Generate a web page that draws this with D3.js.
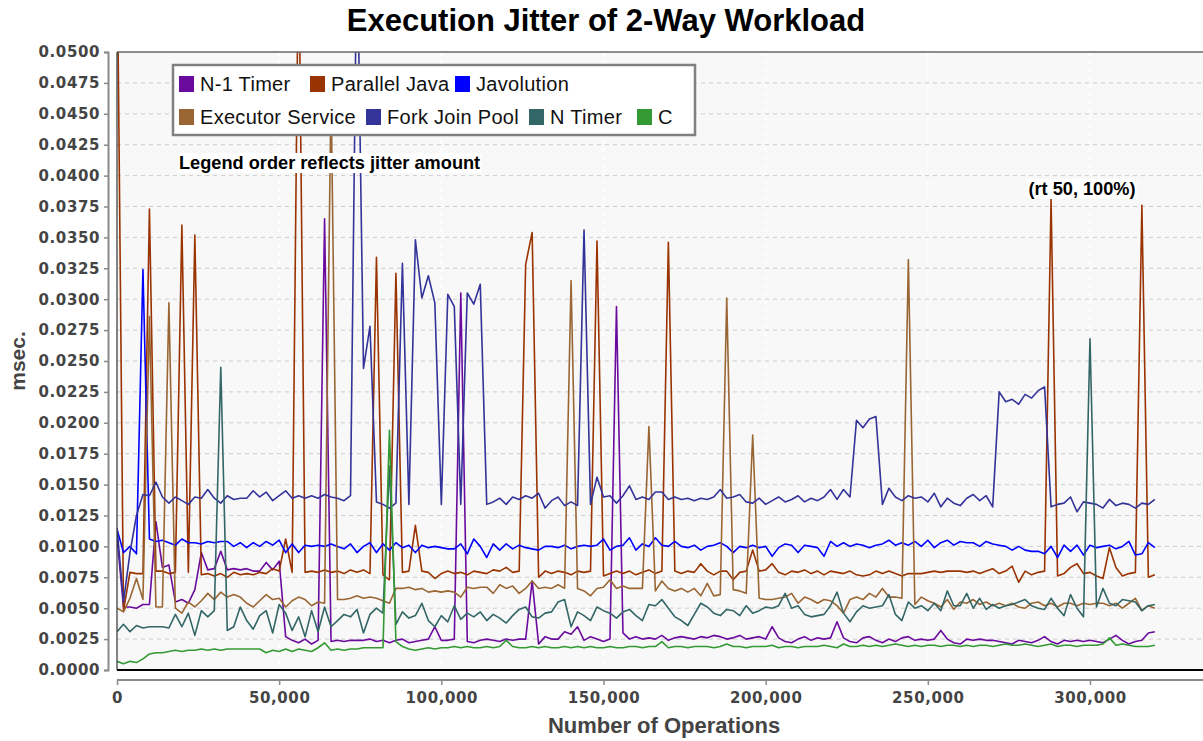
<!DOCTYPE html>
<html><head><meta charset="utf-8">
<script src="https://cdn.jsdelivr.net/npm/d3@7"></script>
<style>body{margin:0;background:#fff;} svg{display:block;}</style>
</head><body><svg id="chart" width="1203" height="741"></svg>
<script>
// ---------------- DATA ----------------
const opsStep = 2000; // one sample every 2,000 operations, starting at 0
const seriesNames = ["N-1 Timer","Parallel Java","Javolution","Executor Service","Fork Join Pool","N Timer","C"];
const seriesColors = ["#6b0b9e","#993300","#0000ff","#996633","#333399","#336666","#339933"];

const n1Timer = [
0.0108,0.0051,0.0051,0.0050,0.0053,0.0053,0.0120,0.0083,0.0085,0.0055,
0.0057,0.0054,0.0065,0.0095,0.0081,0.0082,0.0096,0.0081,0.0082,0.0081,
0.0082,0.0080,0.0080,0.0087,0.0081,0.0088,0.0027,0.0024,0.0022,0.0025,
0.0021,0.0024,0.0365,0.0023,0.0024,0.0023,0.0024,0.0024,0.0024,0.0025,
0.0023,0.0024,0.0022,0.0024,0.0025,0.0022,0.0023,0.0024,0.0025,0.0035,
0.0024,0.0024,0.0025,0.0305,0.0023,0.0022,0.0024,0.0025,0.0024,0.0023,
0.0025,0.0024,0.0025,0.0025,0.0072,0.0021,0.0027,0.0025,0.0025,0.0031,
0.0029,0.0035,0.0024,0.0027,0.0025,0.0023,0.0025,0.0294,0.0030,0.0025,
0.0027,0.0025,0.0026,0.0025,0.0028,0.0024,0.0026,0.0027,0.0026,0.0025,
0.0027,0.0026,0.0028,0.0027,0.0025,0.0026,0.0028,0.0025,0.0026,0.0027,
0.0025,0.0035,0.0026,0.0023,0.0022,0.0025,0.0027,0.0024,0.0026,0.0025,
0.0026,0.0039,0.0026,0.0023,0.0022,0.0026,0.0027,0.0024,0.0022,0.0025,
0.0023,0.0026,0.0027,0.0024,0.0025,0.0024,0.0025,0.0032,0.0025,0.0022,
0.0021,0.0025,0.0024,0.0025,0.0024,0.0024,0.0023,0.0022,0.0021,0.0024,
0.0023,0.0022,0.0024,0.0027,0.0023,0.0021,0.0024,0.0023,0.0024,0.0023,
0.0024,0.0023,0.0022,0.0025,0.0028,0.0024,0.0021,0.0023,0.0024,0.0030,
0.0031];

const parallelJava = [
0.0600,0.0048,0.0079,0.0078,0.0078,0.0373,0.0080,0.0080,0.0078,0.0079,
0.0360,0.0079,0.0352,0.0077,0.0078,0.0076,0.0078,0.0075,0.0079,0.0077,
0.0078,0.0077,0.0079,0.0078,0.0082,0.0080,0.0106,0.0079,0.0600,0.0079,
0.0080,0.0079,0.0081,0.0079,0.0080,0.0078,0.0081,0.0079,0.0081,0.0078,
0.0334,0.0077,0.0073,0.0321,0.0079,0.0080,0.0117,0.0080,0.0079,0.0074,
0.0078,0.0080,0.0078,0.0079,0.0077,0.0080,0.0079,0.0078,0.0081,0.0080,
0.0083,0.0079,0.0080,0.0328,0.0354,0.0075,0.0080,0.0078,0.0080,0.0079,
0.0077,0.0080,0.0079,0.0080,0.0347,0.0076,0.0078,0.0080,0.0078,0.0080,
0.0077,0.0079,0.0081,0.0078,0.0080,0.0346,0.0080,0.0078,0.0080,0.0079,
0.0086,0.0080,0.0077,0.0080,0.0080,0.0073,0.0079,0.0080,0.0097,0.0080,
0.0081,0.0086,0.0079,0.0077,0.0080,0.0079,0.0081,0.0078,0.0080,0.0077,
0.0080,0.0079,0.0078,0.0080,0.0077,0.0076,0.0077,0.0080,0.0078,0.0080,
0.0078,0.0076,0.0078,0.0078,0.0078,0.0079,0.0080,0.0079,0.0080,0.0080,
0.0080,0.0079,0.0080,0.0078,0.0080,0.0082,0.0078,0.0080,0.0084,0.0071,
0.0080,0.0077,0.0079,0.0080,0.0381,0.0076,0.0078,0.0083,0.0086,0.0078,
0.0079,0.0076,0.0074,0.0099,0.0083,0.0076,0.0078,0.0079,0.0376,0.0075,
0.0077];

const javolution = [
0.0114,0.0095,0.0100,0.0094,0.0324,0.0106,0.0104,0.0105,0.0103,0.0101,
0.0106,0.0103,0.0103,0.0102,0.0104,0.0103,0.0104,0.0104,0.0100,0.0103,
0.0099,0.0103,0.0100,0.0104,0.0101,0.0105,0.0095,0.0102,0.0095,0.0101,
0.0100,0.0101,0.0100,0.0102,0.0100,0.0098,0.0102,0.0095,0.0100,0.0103,
0.0095,0.0102,0.0097,0.0103,0.0099,0.0101,0.0095,0.0101,0.0099,0.0100,
0.0099,0.0098,0.0098,0.0102,0.0094,0.0106,0.0100,0.0091,0.0102,0.0097,
0.0102,0.0098,0.0101,0.0099,0.0098,0.0097,0.0100,0.0100,0.0099,0.0101,
0.0098,0.0100,0.0101,0.0100,0.0101,0.0106,0.0097,0.0100,0.0101,0.0107,
0.0097,0.0102,0.0100,0.0107,0.0101,0.0100,0.0104,0.0100,0.0099,0.0101,
0.0097,0.0100,0.0101,0.0103,0.0100,0.0095,0.0100,0.0099,0.0101,0.0099,
0.0100,0.0092,0.0099,0.0102,0.0101,0.0095,0.0101,0.0100,0.0099,0.0092,
0.0104,0.0100,0.0103,0.0100,0.0102,0.0101,0.0099,0.0101,0.0102,0.0105,
0.0101,0.0103,0.0101,0.0104,0.0100,0.0105,0.0099,0.0103,0.0105,0.0101,
0.0104,0.0103,0.0103,0.0100,0.0104,0.0102,0.0101,0.0100,0.0097,0.0100,
0.0097,0.0096,0.0096,0.0094,0.0100,0.0091,0.0101,0.0096,0.0101,0.0093,
0.0101,0.0099,0.0100,0.0101,0.0098,0.0100,0.0104,0.0093,0.0094,0.0103,
0.0099];

const executorService = [
0.0050,0.0047,0.0058,0.0074,0.0057,0.0286,0.0051,0.0051,0.0297,0.0050,
0.0046,0.0055,0.0051,0.0056,0.0062,0.0057,0.0063,0.0059,0.0061,0.0059,
0.0054,0.0051,0.0056,0.0061,0.0057,0.0058,0.0051,0.0056,0.0059,0.0057,
0.0052,0.0055,0.0054,0.0470,0.0057,0.0057,0.0058,0.0060,0.0058,0.0059,
0.0058,0.0056,0.0054,0.0066,0.0066,0.0067,0.0065,0.0066,0.0063,0.0064,
0.0063,0.0064,0.0063,0.0059,0.0067,0.0066,0.0067,0.0067,0.0062,0.0069,
0.0066,0.0068,0.0062,0.0066,0.0072,0.0066,0.0067,0.0066,0.0069,0.0066,
0.0315,0.0066,0.0064,0.0060,0.0066,0.0067,0.0073,0.0066,0.0068,0.0066,
0.0066,0.0066,0.0197,0.0064,0.0072,0.0066,0.0064,0.0066,0.0063,0.0066,
0.0060,0.0070,0.0060,0.0061,0.0301,0.0065,0.0064,0.0062,0.0190,0.0058,
0.0057,0.0057,0.0058,0.0059,0.0062,0.0054,0.0059,0.0057,0.0054,0.0057,
0.0056,0.0052,0.0046,0.0057,0.0059,0.0057,0.0062,0.0059,0.0066,0.0059,
0.0059,0.0058,0.0332,0.0053,0.0059,0.0056,0.0054,0.0051,0.0057,0.0049,
0.0055,0.0054,0.0057,0.0053,0.0055,0.0052,0.0054,0.0052,0.0054,0.0051,
0.0050,0.0054,0.0055,0.0052,0.0054,0.0051,0.0054,0.0054,0.0052,0.0054,
0.0053,0.0054,0.0054,0.0052,0.0054,0.0050,0.0054,0.0058,0.0048,0.0052,
0.0050];

const forkJoinPool = [
0.0115,0.0055,0.0095,0.0125,0.0142,0.0141,0.0152,0.0140,0.0135,0.0140,
0.0137,0.0134,0.0140,0.0139,0.0146,0.0139,0.0135,0.0141,0.0138,0.0139,
0.0139,0.0145,0.0140,0.0144,0.0137,0.0141,0.0145,0.0139,0.0141,0.0139,
0.0141,0.0139,0.0142,0.0140,0.0139,0.0137,0.0141,0.0600,0.0244,0.0278,
0.0136,0.0134,0.0131,0.0135,0.0329,0.0134,0.0348,0.0301,0.0319,0.0297,
0.0134,0.0304,0.0294,0.0134,0.0305,0.0296,0.0312,0.0134,0.0136,0.0139,
0.0134,0.0140,0.0138,0.0141,0.0139,0.0143,0.0131,0.0137,0.0140,0.0133,
0.0136,0.0133,0.0356,0.0134,0.0156,0.0140,0.0141,0.0135,0.0141,0.0149,
0.0138,0.0140,0.0138,0.0144,0.0144,0.0138,0.0140,0.0138,0.0139,0.0137,
0.0139,0.0138,0.0140,0.0146,0.0139,0.0140,0.0142,0.0136,0.0135,0.0139,
0.0134,0.0137,0.0140,0.0136,0.0138,0.0141,0.0136,0.0139,0.0137,0.0140,
0.0146,0.0138,0.0146,0.0140,0.0202,0.0196,0.0203,0.0205,0.0134,0.0147,
0.0140,0.0137,0.0141,0.0139,0.0140,0.0136,0.0143,0.0132,0.0139,0.0135,
0.0133,0.0139,0.0142,0.0137,0.0141,0.0132,0.0225,0.0217,0.0219,0.0215,
0.0223,0.0220,0.0226,0.0229,0.0132,0.0134,0.0135,0.0140,0.0128,0.0136,
0.0135,0.0134,0.0131,0.0138,0.0133,0.0135,0.0134,0.0131,0.0135,0.0134,
0.0138];

const nTimer = [
0.0031,0.0037,0.0031,0.0036,0.0034,0.0035,0.0035,0.0035,0.0034,0.0045,
0.0035,0.0046,0.0028,0.0048,0.0043,0.0048,0.0245,0.0032,0.0035,0.0051,
0.0040,0.0033,0.0044,0.0048,0.0030,0.0053,0.0046,0.0032,0.0043,0.0027,
0.0048,0.0031,0.0051,0.0035,0.0040,0.0045,0.0043,0.0049,0.0030,0.0045,
0.0050,0.0046,0.0165,0.0037,0.0047,0.0042,0.0044,0.0054,0.0040,0.0035,
0.0044,0.0039,0.0052,0.0041,0.0046,0.0043,0.0047,0.0040,0.0045,0.0042,
0.0038,0.0044,0.0049,0.0051,0.0043,0.0042,0.0046,0.0047,0.0055,0.0057,
0.0035,0.0047,0.0044,0.0040,0.0051,0.0048,0.0046,0.0042,0.0047,0.0049,
0.0044,0.0040,0.0053,0.0052,0.0057,0.0050,0.0043,0.0040,0.0036,0.0045,
0.0054,0.0051,0.0046,0.0044,0.0049,0.0048,0.0044,0.0052,0.0046,0.0048,
0.0051,0.0050,0.0052,0.0062,0.0050,0.0052,0.0045,0.0043,0.0044,0.0045,
0.0052,0.0063,0.0046,0.0039,0.0047,0.0052,0.0050,0.0051,0.0052,0.0061,
0.0045,0.0040,0.0055,0.0050,0.0052,0.0048,0.0054,0.0048,0.0064,0.0052,
0.0052,0.0062,0.0050,0.0058,0.0049,0.0053,0.0050,0.0052,0.0053,0.0055,
0.0057,0.0052,0.0050,0.0049,0.0058,0.0050,0.0044,0.0061,0.0050,0.0043,
0.0268,0.0051,0.0066,0.0054,0.0052,0.0057,0.0056,0.0055,0.0048,0.0052,
0.0053];

const cSeries = [
0.0007,0.0005,0.0007,0.0006,0.0009,0.0013,0.0014,0.0014,0.0015,0.0016,
0.0015,0.0016,0.0016,0.0017,0.0016,0.0017,0.0016,0.0017,0.0017,0.0017,
0.0017,0.0017,0.0017,0.0014,0.0016,0.0015,0.0017,0.0015,0.0017,0.0016,
0.0015,0.0018,0.0022,0.0016,0.0017,0.0016,0.0017,0.0017,0.0018,0.0018,
0.0018,0.0018,0.0194,0.0023,0.0019,0.0017,0.0016,0.0017,0.0018,0.0017,
0.0018,0.0018,0.0019,0.0018,0.0019,0.0018,0.0018,0.0019,0.0018,0.0019,
0.0024,0.0019,0.0018,0.0018,0.0019,0.0018,0.0019,0.0018,0.0018,0.0019,
0.0018,0.0019,0.0018,0.0019,0.0018,0.0018,0.0019,0.0018,0.0018,0.0019,
0.0019,0.0018,0.0019,0.0019,0.0023,0.0018,0.0019,0.0019,0.0018,0.0019,
0.0019,0.0019,0.0018,0.0019,0.0021,0.0019,0.0019,0.0018,0.0019,0.0019,
0.0019,0.0020,0.0018,0.0019,0.0019,0.0018,0.0019,0.0019,0.0019,0.0020,
0.0019,0.0018,0.0021,0.0019,0.0019,0.0020,0.0019,0.0020,0.0019,0.0020,
0.0021,0.0020,0.0019,0.0020,0.0019,0.0020,0.0020,0.0019,0.0020,0.0020,
0.0019,0.0020,0.0019,0.0020,0.0020,0.0019,0.0020,0.0021,0.0020,0.0020,
0.0021,0.0020,0.0019,0.0020,0.0021,0.0019,0.0020,0.0020,0.0019,0.0020,
0.0020,0.0020,0.0021,0.0026,0.0020,0.0021,0.0020,0.0019,0.0019,0.0019,
0.0020];

const yTickValues = [0,0.0025,0.005,0.0075,0.01,0.0125,0.015,0.0175,0.02,0.0225,0.025,
  0.0275,0.03,0.0325,0.035,0.0375,0.04,0.0425,0.045,0.0475,0.05];
const xTickValues = [0,50000,100000,150000,200000,250000,300000];
const titleText = "Execution Jitter of 2-Way Workload";
const xLabel = "Number of Operations";
const yLabel = "msec.";
const noteText = "Legend order reflects jitter amount";
const peakNote = "(rt 50, 100%)";

// ---------------- CHART ----------------
const seriesValues = [n1Timer, parallelJava, javolution, executorService, forkJoinPool, nTimer, cSeries];
const series = seriesNames.map((name, k) => ({
  name, color: seriesColors[k],
  points: seriesValues[k].map((v, i) => ({ x: i * opsStep, y: v }))
}));

const svg = d3.select("#chart");
const plot = { left: 117, top: 52, right: 1203, bottom: 670 };

const x = d3.scaleLinear().domain([0, 335000]).range([plot.left, plot.left + 335 * 3.2433]);
const y = d3.scaleLinear().domain([0, 0.05]).range([plot.bottom, plot.top]);

// plot background
svg.append("rect").attr("x", plot.left).attr("y", plot.top)
  .attr("width", plot.right - plot.left).attr("height", plot.bottom - plot.top)
  .attr("fill", "#f8f8f8");

// grid lines
svg.append("g").selectAll("line").data(xTickValues.filter(d => d > 0)).join("line")
  .attr("x1", d => x(d)).attr("x2", d => x(d))
  .attr("y1", plot.top).attr("y2", plot.bottom)
  .attr("stroke", "#ffffff").attr("stroke-width", 1.5).attr("stroke-dasharray", "4,4");
svg.append("g").selectAll("line").data(yTickValues.filter(d => d > 0 && d < 0.05)).join("line")
  .attr("x1", plot.left).attr("x2", plot.right)
  .attr("y1", d => y(d)).attr("y2", d => y(d))
  .attr("stroke", "#cdcdcd").attr("stroke-width", 1).attr("stroke-dasharray", "4,4");

// clip
svg.append("defs").append("clipPath").attr("id", "clip")
  .append("rect").attr("x", plot.left).attr("y", plot.top)
  .attr("width", plot.right - plot.left).attr("height", plot.bottom - plot.top);

const line = d3.line().x(d => x(d.x)).y(d => y(d.y));
svg.append("g").attr("clip-path", "url(#clip)")
  .selectAll("path").data(series).join("path")
  .attr("d", d => line(d.points))
  .attr("fill", "none").attr("stroke", d => d.color)
  .attr("stroke-width", 1.6).attr("stroke-linejoin", "round");

// plot borders
svg.append("line").attr("x1", plot.left).attr("x2", plot.right).attr("y1", plot.top).attr("y2", plot.top)
  .attr("stroke", "#666").attr("stroke-width", 1.5);
svg.append("line").attr("x1", plot.left).attr("x2", plot.right).attr("y1", plot.bottom).attr("y2", plot.bottom)
  .attr("stroke", "#000").attr("stroke-width", 2);
svg.append("line").attr("x1", plot.left).attr("x2", plot.left).attr("y1", plot.top).attr("y2", plot.bottom)
  .attr("stroke", "#333").attr("stroke-width", 1.2);

// axes
const tickFont = "'DejaVu Sans', Verdana, sans-serif";
const yAxis = d3.axisLeft(y).tickValues(yTickValues).tickFormat(d3.format(".4f")).tickSize(4).tickPadding(4);
const gy = svg.append("g").attr("transform", "translate(108,0)").call(yAxis);
gy.select(".domain").attr("stroke", "#8a8a8a").attr("stroke-width", 2);
gy.selectAll(".tick line").attr("stroke", "#8a8a8a").attr("stroke-width", 1.5);
gy.selectAll(".tick text").attr("font-family", tickFont).attr("font-weight", "bold")
  .attr("font-size", 15).attr("fill", "#444").attr("letter-spacing", "0.6px");

const xAxis = d3.axisBottom(x).tickValues(xTickValues).tickFormat(d3.format(",")).tickSize(5).tickPadding(7).tickSizeOuter(0);
const gx = svg.append("g").attr("transform", "translate(0,680)").call(xAxis);
gx.select(".domain").attr("stroke", "#8a8a8a").attr("stroke-width", 2)
  .attr("d", `M${plot.left},0H${plot.right}`);
gx.selectAll(".tick line").attr("stroke", "#8a8a8a").attr("stroke-width", 1.5);
gx.selectAll(".tick text").attr("font-family", tickFont).attr("font-weight", "bold")
  .attr("font-size", 15).attr("fill", "#444").attr("letter-spacing", "0.6px");

// axis titles
svg.append("text").attr("x", 664).attr("y", 733).attr("text-anchor", "middle")
  .attr("font-family", "'Liberation Sans', Arial, sans-serif").attr("font-weight", "bold")
  .attr("font-size", 22).attr("fill", "#444").text(xLabel);
svg.append("text").attr("transform", "translate(25,361) rotate(-90)").attr("text-anchor", "middle")
  .attr("font-family", "'Liberation Sans', Arial, sans-serif").attr("font-weight", "bold")
  .attr("font-size", 21).attr("fill", "#444").text(yLabel);

// title
svg.append("text").attr("x", 606).attr("y", 31).attr("text-anchor", "middle")
  .attr("font-family", "'Liberation Sans', Arial, sans-serif").attr("font-weight", "bold")
  .attr("font-size", 31).attr("fill", "#000").text(titleText);

// annotations with white background
function note(txt, xPos, yBase, anchor) {
  const g = svg.append("g");
  const t = g.append("text").attr("x", xPos).attr("y", yBase).attr("text-anchor", anchor)
    .attr("font-family", "'Liberation Sans', Arial, sans-serif").attr("font-weight", "bold")
    .attr("font-size", 18.2).attr("fill", "#000").text(txt);
  const bb = t.node().getBBox();
  g.insert("rect", "text").attr("x", bb.x - 1).attr("y", bb.y).attr("width", bb.width + 2)
    .attr("height", bb.height).attr("fill", "#fff");
}
note(noteText, 179, 169, "start");
note(peakNote, 1082, 195, "middle");

// legend
const legendPos = [[179, 0], [310, 0], [455, 0], [179, 1], [366, 1], [529, 1], [637, 1]];
const lg = svg.append("g");
lg.append("rect").attr("x", 173).attr("y", 65).attr("width", 522).attr("height", 70)
  .attr("fill", "#fff").attr("stroke", "#808080").attr("stroke-width", 2.5);
const items = lg.selectAll("g.item").data(series).join("g").attr("class", "item")
  .attr("transform", (d, i) => `translate(${legendPos[i][0]},${76 + legendPos[i][1] * 33})`);
items.append("rect").attr("width", 15).attr("height", 16).attr("fill", d => d.color);
items.append("text").attr("x", 21).attr("y", 15)
  .attr("font-family", "'Liberation Sans', Arial, sans-serif").attr("font-size", 20)
  .attr("fill", "#111").attr("letter-spacing", "0.3px").text(d => d.name);
</script>
</body></html>
